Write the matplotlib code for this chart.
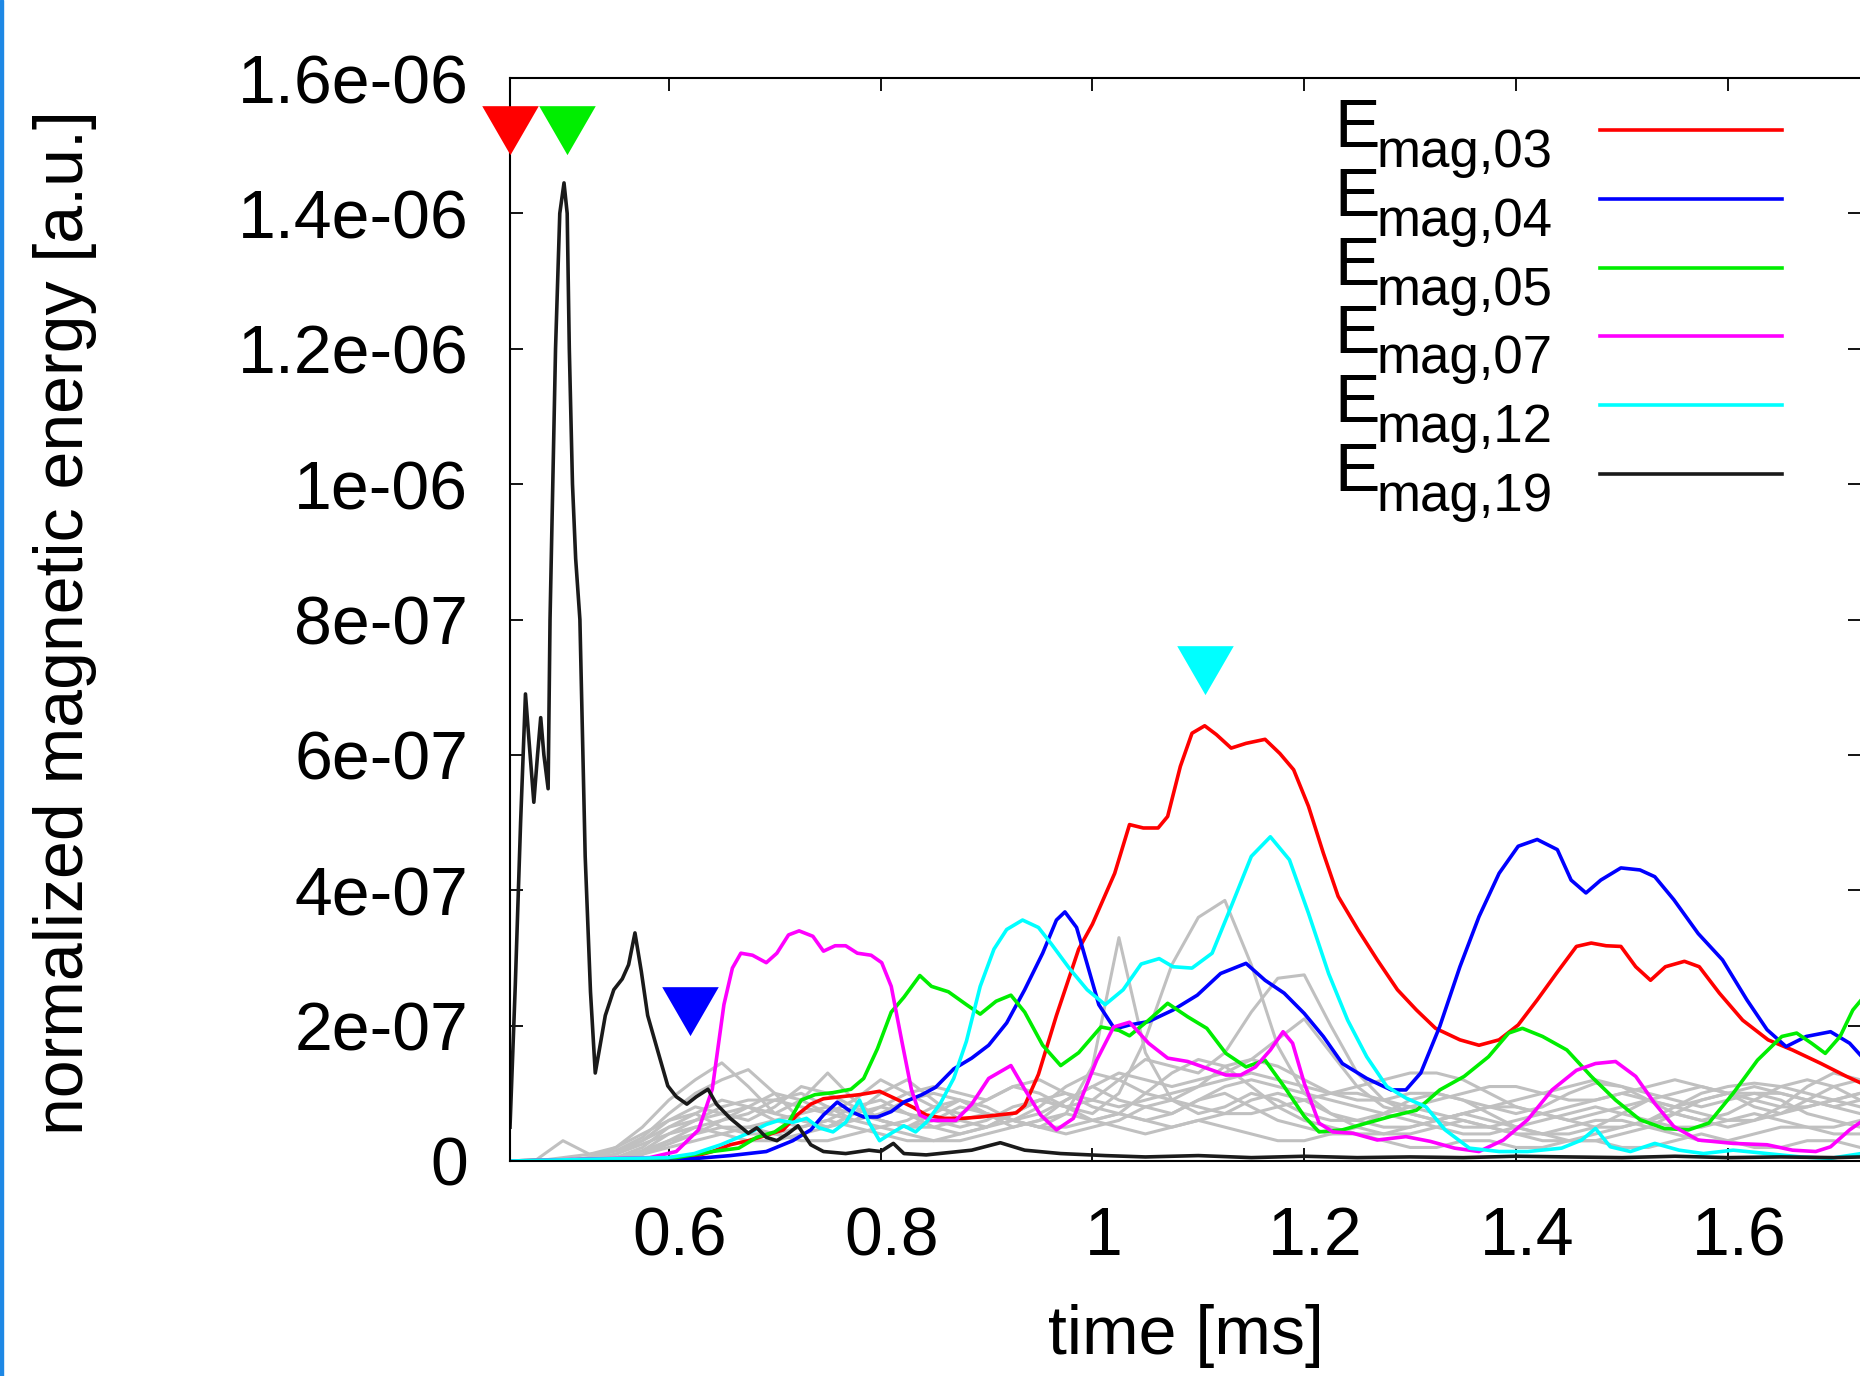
import numpy as np
import matplotlib
matplotlib.use("Agg")
import matplotlib.pyplot as plt
from matplotlib.transforms import ScaledTranslation

plt.rcParams['font.family'] = ['Liberation Sans', 'DejaVu Sans']

# ---- data (energies in units of 1e-7) ----
t03 = [0.45, 0.6, 0.62, 0.641, 0.658, 0.675, 0.692, 0.708, 0.721, 0.734, 0.746, 0.763, 0.78, 0.799, 0.814,
       0.831, 0.843, 0.86, 0.877, 0.894, 0.911, 0.928, 0.936, 0.949, 0.966, 0.987, 1.0, 1.021, 1.035, 1.048,
       1.062, 1.071, 1.083, 1.094, 1.106, 1.117, 1.131, 1.145, 1.163, 1.177, 1.19, 1.204, 1.218, 1.232, 1.251,
       1.269, 1.288, 1.306, 1.324, 1.347, 1.365, 1.384, 1.402, 1.42, 1.438, 1.457, 1.471, 1.485, 1.499, 1.513,
       1.527, 1.541, 1.559, 1.573, 1.592, 1.614, 1.638, 1.661, 1.688, 1.712, 1.726]
e03 = [0, 0, 0.05, 0.14, 0.24, 0.30, 0.38, 0.46, 0.68, 0.84, 0.92, 0.95, 0.98, 1.03, 0.92,
       0.79, 0.68, 0.63, 0.63, 0.65, 0.68, 0.71, 0.82, 1.28, 2.15, 3.13, 3.5, 4.25, 4.97, 4.92,
       4.92, 5.09, 5.83, 6.32, 6.43, 6.30, 6.10, 6.17, 6.23, 6.02, 5.78, 5.24, 4.55, 3.91, 3.41,
       2.97, 2.53, 2.23, 1.96, 1.79, 1.71, 1.79, 2.01, 2.38, 2.77, 3.17, 3.22, 3.18, 3.17, 2.87,
       2.67, 2.87, 2.95, 2.87, 2.48, 2.08, 1.79, 1.64, 1.44, 1.25, 1.15]

t04 = [0.45, 0.62, 0.658, 0.692, 0.717, 0.734, 0.746, 0.759, 0.772, 0.784, 0.797, 0.81, 0.822, 0.839, 0.852,
       0.869, 0.886, 0.902, 0.919, 0.936, 0.953, 0.966, 0.974, 0.985, 0.995, 1.006, 1.021, 1.035, 1.053, 1.076,
       1.099, 1.121, 1.145, 1.163, 1.181, 1.2, 1.218, 1.236, 1.259, 1.282, 1.296, 1.31, 1.328, 1.347, 1.365,
       1.384, 1.402, 1.42, 1.439, 1.452, 1.466, 1.48, 1.499, 1.517, 1.531, 1.549, 1.572, 1.595, 1.618, 1.637,
       1.655, 1.674, 1.697, 1.715, 1.726]
e04 = [0, 0.03, 0.08, 0.14, 0.30, 0.46, 0.68, 0.87, 0.73, 0.65, 0.65, 0.73, 0.87, 0.98, 1.09,
       1.36, 1.52, 1.71, 2.04, 2.53, 3.07, 3.56, 3.68, 3.45, 2.91, 2.31, 1.95, 2.01, 2.06, 2.23,
       2.45, 2.77, 2.92, 2.67, 2.48, 2.18, 1.84, 1.44, 1.22, 1.05, 1.05, 1.30, 1.99, 2.87, 3.61,
       4.25, 4.65, 4.75, 4.60, 4.15, 3.96, 4.15, 4.33, 4.30, 4.20, 3.86, 3.36, 2.97, 2.38, 1.94,
       1.69, 1.84, 1.91, 1.74, 1.55]

t05 = [0.45, 0.607, 0.641, 0.666, 0.683, 0.70, 0.713, 0.725, 0.738, 0.755, 0.772, 0.784, 0.797, 0.81, 0.822,
       0.837, 0.848, 0.864, 0.881, 0.894, 0.909, 0.923, 0.936, 0.953, 0.97, 0.987, 1.008, 1.025, 1.035, 1.053,
       1.071, 1.09, 1.108, 1.126, 1.145, 1.163, 1.181, 1.2, 1.214, 1.236, 1.259, 1.282, 1.306, 1.328, 1.351,
       1.374, 1.393, 1.406, 1.425, 1.448, 1.471, 1.494, 1.517, 1.54, 1.563, 1.582, 1.605, 1.628, 1.651, 1.665,
       1.679, 1.692, 1.706, 1.718, 1.726]
e05 = [0, 0.05, 0.14, 0.19, 0.35, 0.43, 0.57, 0.90, 0.98, 1.01, 1.06, 1.22, 1.66, 2.20, 2.42,
       2.74, 2.58, 2.50, 2.31, 2.17, 2.36, 2.45, 2.20, 1.71, 1.41, 1.60, 1.98, 1.93, 1.85, 2.08,
       2.33, 2.13, 1.96, 1.59, 1.39, 1.49, 1.10, 0.66, 0.43, 0.46, 0.56, 0.66, 0.75, 1.05, 1.25,
       1.54, 1.89, 1.96, 1.84, 1.64, 1.25, 0.90, 0.61, 0.48, 0.46, 0.56, 1.00, 1.49, 1.84, 1.89,
       1.74, 1.59, 1.84, 2.23, 2.38]

t07 = [0.45, 0.582, 0.607, 0.628, 0.641, 0.652, 0.660, 0.668, 0.679, 0.692, 0.702, 0.713, 0.723, 0.736, 0.746,
       0.757, 0.767, 0.778, 0.791, 0.801, 0.81, 0.82, 0.829, 0.837, 0.848, 0.86, 0.871, 0.886, 0.902, 0.923,
       0.936, 0.951, 0.966, 0.982, 1.004, 1.02, 1.035, 1.053, 1.071, 1.09, 1.108, 1.126, 1.140, 1.154, 1.168,
       1.180, 1.189, 1.2, 1.214, 1.227, 1.246, 1.269, 1.296, 1.319, 1.342, 1.365, 1.388, 1.411, 1.434, 1.457,
       1.475, 1.494, 1.513, 1.531, 1.549, 1.572, 1.605, 1.637, 1.661, 1.683, 1.697, 1.715, 1.726]
e07 = [0, 0.05, 0.14, 0.46, 1.06, 2.31, 2.85, 3.07, 3.04, 2.93, 3.07, 3.34, 3.40, 3.32, 3.10,
       3.18, 3.18, 3.07, 3.04, 2.93, 2.58, 1.77, 1.06, 0.68, 0.60, 0.60, 0.60, 0.84, 1.22, 1.41,
       1.06, 0.68, 0.46, 0.63, 1.49, 1.98, 2.05, 1.74, 1.52, 1.47, 1.37, 1.27, 1.27, 1.39, 1.64,
       1.91, 1.74, 1.15, 0.56, 0.43, 0.41, 0.31, 0.36, 0.29, 0.19, 0.14, 0.31, 0.61, 1.05, 1.34,
       1.44, 1.47, 1.25, 0.85, 0.51, 0.31, 0.26, 0.24, 0.16, 0.14, 0.21, 0.46, 0.58]

t12 = [0.45, 0.599, 0.624, 0.649, 0.675, 0.692, 0.704, 0.717, 0.730, 0.742, 0.755, 0.767, 0.78, 0.789, 0.799,
       0.81, 0.822, 0.833, 0.843, 0.856, 0.869, 0.881, 0.894, 0.907, 0.919, 0.934, 0.949, 0.961, 0.978, 0.995,
       1.012, 1.029, 1.046, 1.063, 1.076, 1.094, 1.113, 1.131, 1.150, 1.168, 1.186, 1.204, 1.223, 1.241, 1.259,
       1.278, 1.296, 1.315, 1.333, 1.356, 1.384, 1.411, 1.443, 1.462, 1.475, 1.489, 1.508, 1.531, 1.554, 1.577,
       1.605, 1.637, 1.669, 1.697, 1.726]
e12 = [0, 0.05, 0.11, 0.24, 0.41, 0.54, 0.60, 0.57, 0.63, 0.49, 0.43, 0.57, 0.90, 0.57, 0.30,
       0.41, 0.52, 0.43, 0.57, 0.84, 1.22, 1.77, 2.58, 3.13, 3.42, 3.56, 3.45, 3.21, 2.85, 2.53,
       2.31, 2.53, 2.91, 2.99, 2.87, 2.85, 3.07, 3.76, 4.50, 4.79, 4.45, 3.66, 2.77, 2.08, 1.54,
       1.10, 0.93, 0.80, 0.46, 0.19, 0.14, 0.14, 0.19, 0.31, 0.48, 0.21, 0.14, 0.26, 0.16, 0.11,
       0.16, 0.11, 0.06, 0.04, 0.11]

t19 = [0.45, 0.455, 0.46, 0.4646, 0.468, 0.4725, 0.476, 0.479, 0.482, 0.486, 0.4878, 0.493, 0.497, 0.501, 0.504,
       0.506, 0.509, 0.512, 0.516, 0.521, 0.526, 0.5305, 0.535, 0.540, 0.548, 0.556, 0.562, 0.568, 0.574, 0.580,
       0.590, 0.599, 0.607, 0.617, 0.626, 0.637, 0.645, 0.658, 0.675, 0.683, 0.692, 0.702, 0.713, 0.722, 0.734,
       0.746, 0.767, 0.789, 0.80, 0.812, 0.822, 0.843, 0.886, 0.913, 0.936, 0.97, 1.012, 1.05, 1.1, 1.15,
       1.2, 1.25, 1.3, 1.35, 1.4, 1.45, 1.5, 1.55, 1.6, 1.65, 1.7, 1.726]
e19 = [0.5, 2.6, 5.0, 6.9, 6.2, 5.3, 6.0, 6.55, 6.0, 5.5, 8.0, 12.0, 14.0, 14.45, 14.0,
       12.0, 10.0, 8.9, 8.0, 4.5, 2.5, 1.3, 1.7, 2.15, 2.53, 2.69, 2.9, 3.37, 2.8, 2.15,
       1.6, 1.11, 0.95, 0.84, 0.95, 1.06, 0.84, 0.63, 0.41, 0.49, 0.35, 0.30, 0.41, 0.52, 0.24,
       0.14, 0.11, 0.16, 0.14, 0.26, 0.11, 0.09, 0.16, 0.27, 0.16, 0.11, 0.08, 0.06, 0.08, 0.05,
       0.07, 0.05, 0.06, 0.05, 0.07, 0.06, 0.05, 0.07, 0.05, 0.06, 0.05, 0.06]

# other channels (grey), common time grid 0.45 .. 1.725 step 0.025
t_grey = [0.45, 0.475, 0.5, 0.525, 0.55, 0.575, 0.6, 0.625, 0.65, 0.675,
          0.7, 0.725, 0.75, 0.775, 0.8, 0.825, 0.85, 0.875, 0.9, 0.925,
          0.95, 0.975, 1.0, 1.025, 1.05, 1.075, 1.1, 1.125, 1.15, 1.175,
          1.2, 1.225, 1.25, 1.275, 1.3, 1.325, 1.35, 1.375, 1.4, 1.425,
          1.45, 1.475, 1.5, 1.525, 1.55, 1.575, 1.6, 1.625, 1.65, 1.675,
          1.7, 1.725]
grey = [
    [0, 0, 0, 0.05, 0.2, 0.5, 0.9, 1.2, 1.45, 1.1, 0.7, 0.9, 1.3, 0.9, 0.6, 0.5, 0.6, 0.8, 0.7, 0.5,
     0.6, 0.9, 1.1, 0.9, 0.8, 0.7, 0.9, 1.0, 0.8, 0.6, 0.5, 0.4, 0.5, 0.7, 0.9, 1.0, 0.9, 0.7, 0.5, 0.4,
     0.4, 0.5, 0.7, 0.9, 1.0, 1.1, 1.0, 0.8, 0.7, 0.8, 0.9, 1.0],
    [0, 0, 0, 0.05, 0.15, 0.35, 0.7, 1.0, 1.2, 1.35, 1.0, 0.6, 0.5, 0.7, 1.0, 1.2, 0.9, 0.6, 0.5, 0.7,
     0.9, 0.8, 0.6, 0.7, 1.0, 1.3, 1.5, 1.4, 1.1, 0.8, 0.6, 0.5, 0.4, 0.4, 0.5, 0.6, 0.7, 0.8, 0.8, 0.7,
     0.6, 0.5, 0.5, 0.6, 0.8, 1.0, 1.1, 1.15, 1.1, 1.0, 0.9, 0.8],
    [0, 0, 0, 0.02, 0.1, 0.3, 0.6, 0.8, 0.7, 0.6, 0.8, 1.1, 1.0, 0.8, 0.6, 0.5, 0.7, 0.9, 0.8, 0.6,
     0.5, 0.7, 1.4, 3.3, 1.6, 0.9, 0.7, 0.8, 1.0, 0.9, 0.7, 0.6, 0.6, 0.7, 0.6, 0.5, 0.4, 0.4, 0.5, 0.6,
     0.7, 0.8, 0.7, 0.6, 0.5, 0.5, 0.6, 0.7, 0.6, 0.5, 0.5, 0.6],
    [0, 0, 0, 0, 0.05, 0.2, 0.5, 0.7, 0.9, 0.8, 0.6, 0.5, 0.6, 0.8, 0.9, 0.7, 0.5, 0.4, 0.5, 0.7,
     0.9, 0.8, 0.7, 1.0, 1.8, 2.9, 3.6, 3.85, 2.9, 1.7, 1.0, 0.7, 0.6, 0.5, 0.5, 0.6, 0.7, 0.6, 0.5, 0.4,
     0.3, 0.3, 0.4, 0.5, 0.7, 0.9, 1.0, 1.0, 0.9, 0.7, 0.6, 0.5],
    [0, 0, 0, 0, 0.03, 0.15, 0.4, 0.6, 0.8, 0.9, 0.9, 0.8, 0.7, 0.9, 1.2, 1.0, 0.8, 0.7, 0.9, 1.1,
     1.0, 0.8, 0.9, 1.2, 1.5, 1.4, 1.3, 1.6, 2.2, 2.7, 2.75, 2.0, 1.3, 0.9, 0.7, 0.6, 0.5, 0.5, 0.6, 0.7,
     0.8, 0.9, 1.0, 0.9, 0.7, 0.6, 0.7, 0.9, 1.1, 1.2, 1.1, 0.9],
    [0, 0, 0, 0, 0.02, 0.1, 0.3, 0.5, 0.6, 0.7, 0.9, 1.0, 0.8, 0.6, 0.5, 0.6, 0.8, 0.9, 0.7, 0.6,
     0.7, 0.9, 1.1, 1.3, 1.2, 1.1, 1.2, 1.3, 1.5, 1.8, 2.1, 1.6, 1.1, 0.8, 0.7, 0.6, 0.7, 0.8, 0.9, 1.0,
     1.1, 1.2, 1.1, 1.0, 0.9, 0.8, 0.9, 1.0, 1.0, 0.9, 0.8, 0.7],
    [0, 0, 0.05, 0.1, 0.2, 0.4, 0.6, 0.7, 0.5, 0.4, 0.4, 0.5, 0.6, 0.5, 0.4, 0.3, 0.3, 0.4, 0.5, 0.6,
     0.5, 0.4, 0.5, 0.6, 0.8, 0.9, 0.8, 0.7, 0.7, 0.8, 0.9, 1.0, 1.0, 0.9, 0.8, 0.7, 0.6, 0.5, 0.4, 0.4,
     0.5, 0.6, 0.6, 0.5, 0.4, 0.3, 0.3, 0.4, 0.5, 0.5, 0.4, 0.4],
    [0, 0.02, 0.3, 0.1, 0.15, 0.3, 0.5, 0.6, 0.7, 0.8, 0.7, 0.6, 0.5, 0.6, 0.8, 1.0, 1.1, 1.0, 0.9, 1.1,
     1.2, 1.0, 0.8, 0.7, 0.6, 0.7, 0.9, 1.1, 1.2, 1.1, 1.0, 0.9, 0.8, 0.7, 0.8, 0.9, 1.0, 1.1, 1.1, 1.0,
     0.9, 0.9, 1.0, 1.1, 1.2, 1.1, 1.0, 0.9, 0.8, 0.8, 0.9, 1.0],
    [0, 0, 0, 0.03, 0.1, 0.25, 0.4, 0.5, 0.4, 0.3, 0.3, 0.4, 0.5, 0.7, 0.8, 0.7, 0.6, 0.5, 0.6, 0.8,
     0.9, 1.0, 0.9, 0.8, 0.9, 1.0, 1.1, 1.2, 1.3, 1.2, 1.1, 1.0, 1.1, 1.2, 1.3, 1.3, 1.2, 1.0, 0.8, 0.7,
     0.6, 0.7, 0.8, 0.9, 0.8, 0.7, 0.6, 0.6, 0.7, 0.9, 1.1, 1.2],
    [0, 0, 0, 0.02, 0.05, 0.15, 0.3, 0.4, 0.5, 0.5, 0.4, 0.3, 0.3, 0.4, 0.5, 0.4, 0.3, 0.3, 0.4, 0.5,
     0.6, 0.7, 0.6, 0.5, 0.4, 0.5, 0.6, 0.5, 0.4, 0.3, 0.3, 0.4, 0.4, 0.3, 0.2, 0.2, 0.3, 0.3, 0.2, 0.2,
     0.3, 0.3, 0.2, 0.2, 0.3, 0.4, 0.3, 0.2, 0.2, 0.3, 0.3, 0.2],
    [0, 0, 0, 0, 0.02, 0.1, 0.2, 0.3, 0.4, 0.5, 0.6, 0.7, 0.8, 0.7, 0.6, 0.5, 0.5, 0.6, 0.7, 0.6,
     0.5, 0.5, 0.6, 0.7, 0.6, 0.5, 0.6, 0.7, 0.9, 1.0, 0.9, 0.7, 0.5, 0.4, 0.4, 0.5, 0.6, 0.5, 0.4, 0.3,
     0.3, 0.4, 0.5, 0.6, 0.7, 0.6, 0.5, 0.6, 0.8, 1.1, 1.3, 1.2],
    [0, 0, 0, 0, 0.03, 0.1, 0.25, 0.4, 0.6, 0.8, 1.0, 0.9, 0.7, 0.6, 0.7, 0.9, 1.0, 0.9, 0.7, 0.6,
     0.8, 1.1, 1.3, 1.2, 1.0, 0.9, 1.1, 1.4, 1.5, 1.4, 1.2, 1.0, 0.9, 0.9, 1.0, 1.0, 0.9, 0.8, 0.7, 0.8,
     1.0, 1.15, 1.1, 0.9, 0.8, 0.9, 1.0, 1.1, 1.0, 0.9, 0.8, 0.9],
]

subs = ['mag,03', 'mag,04', 'mag,05', 'mag,07', 'mag,12', 'mag,19']
colors = ['#ff0000', '#0000ff', '#00ee00', '#ff00ff', '#00ffff', '#1a1a1a']

# arrival markers (time, energy 1e-7, colour)
mark_t = [0.45, 0.504, 0.62, 1.106]
mark_e = [15.35, 15.35, 2.33, 7.37]
mark_c = ['#ff0000', '#00ee00', '#0000ff', '#00ffff']

yticks = [0, 2e-7, 4e-7, 6e-7, 8e-7, 1e-6, 1.2e-6, 1.4e-6, 1.6e-6]
ytick_lab = ['0', '2e-07', '4e-07', '6e-07', '8e-07', '1e-06', '1.2e-06', '1.4e-06', '1.6e-06']
xticks = [0.6, 0.8, 1.0, 1.2, 1.4, 1.6]
xtick_lab = ['0.6', '0.8', '1', '1.2', '1.4', '1.6']

FS = 49
fig = plt.figure(figsize=(18.6, 13.76), dpi=100)
ax = fig.add_axes([510/1860, 1-1161/1376, 1351/1860, 1083/1376])

tg = np.array(t_grey)
for g in grey:
    ax.plot(tg, np.array(g)*1e-7, color='#c0c0c0', lw=2.2)

series = [(t03, e03), (t04, e04), (t05, e05), (t07, e07), (t12, e12), (t19, e19)]
for (tt, ee), c in zip(series, colors):
    ax.plot(tt, np.array(ee)*1e-7, color=c, lw=2.6)

for x, y, c in zip(mark_t, mark_e, mark_c):
    ax.plot([x], [y*1e-7], ls='none', marker=(3, 0, 180), ms=47, color=c, mew=0, clip_on=False, zorder=5)

ax.set_xlim(0.45, 0.45 + 1351/1059)
ax.set_ylim(0, 1.6e-6)
ax.set_xticks(xticks)
ax.set_xticklabels(xtick_lab)
ax.set_yticks(yticks)
ax.set_yticklabels(ytick_lab)
ax.tick_params(direction='in', length=9.5, width=1.3, top=True, right=True, labelsize=FS)
ax.tick_params(axis='x', pad=32)
ax.tick_params(axis='y', pad=30)
for lab in ax.get_xticklabels():
    lab.set_transform(lab.get_transform() + ScaledTranslation(0.11, 0, fig.dpi_scale_trans))
for sp in ax.spines.values():
    sp.set_linewidth(1.5)

# gnuplot style key: E + lowered subscript, sample line on the right
for i, (s, c) in enumerate(zip(subs, colors)):
    yl = 0.952 - i*0.0635
    ax.plot([0.8068, 0.9415], [yl, yl], transform=ax.transAxes, color=c, lw=2.6, clip_on=False)
    yb = yl - 0.0157
    ax.text(0.6099, yb, 'E', transform=ax.transAxes, ha='left', va='baseline', fontsize=FS)
    ax.annotate(s, xy=(0.6099, yb), xycoords='axes fraction', xytext=(30.5, -14.4),
                textcoords='offset points', ha='left', va='baseline', fontsize=38)

fig.text(65/1860, 1-623/1376, 'normalized magnetic energy [a.u.]', rotation=90,
         ha='center', va='center', fontsize=FS)
fig.text(1186/1860, 1-1336/1376, 'time [ms]', ha='center', va='center', fontsize=FS)

fig.add_artist(plt.Rectangle((0, 0), 3/1860, 1, transform=fig.transFigure, color='#1e88e5'))

fig.savefig('out.png', dpi=100)
